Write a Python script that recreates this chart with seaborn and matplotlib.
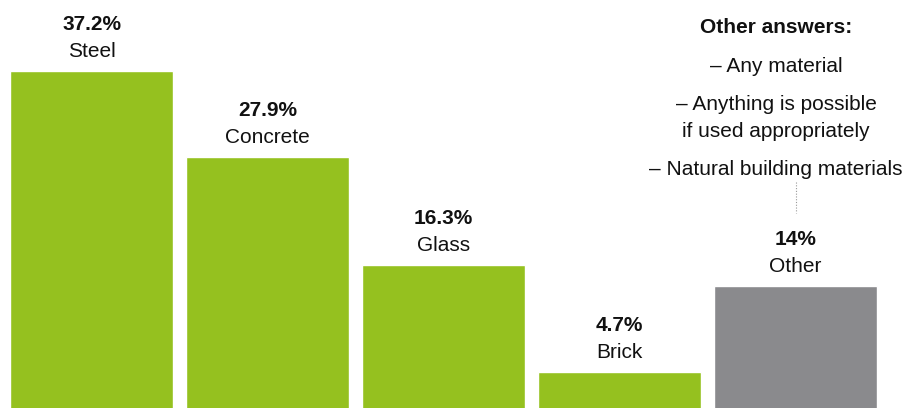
import matplotlib
matplotlib.use("Agg")
import matplotlib.pyplot as plt
import seaborn as sns
import pandas as pd

# Data
materials = ["Steel", "Concrete", "Glass", "Brick", "Other"]
shares = [37.2, 27.9, 16.3, 4.7, 14.0]
share_labels = ["37.2%", "27.9%", "16.3%", "4.7%", "14%"]
other_answers = ["– Any material", "– Anything is possible", "if used appropriately",
                 "– Natural building materials"]

green = "#95C11F"
grey = "#8A8A8D"
colors = [green, green, green, green, grey]
txt_color = "#111111"

sns.set_theme(style="white")
plt.rcParams["font.family"] = ["Liberation Sans", "DejaVu Sans"]

df = pd.DataFrame({"material": materials, "share": shares})

fig = plt.figure(figsize=(9.21, 4.08), dpi=100)
ax = fig.add_axes([0, 0, 1, 1])

sns.barplot(data=df, x="material", y="share", hue="material", palette=colors,
            width=0.926, saturation=1, legend=False, ax=ax)

ax.set_xlim(-0.52, 4.713)
ax.set_ylim(0.81, 44.87)
ax.axis("off")

fs = 15

# labels above the bars
for i, (v, lab, name) in enumerate(zip(shares, share_labels, materials)):
    ax.annotate(name, (i, v), xytext=(0, 10), textcoords="offset points",
                ha="center", va="baseline", fontsize=fs, color=txt_color)
    ax.annotate(lab, (i, v), xytext=(0, 29.5), textcoords="offset points",
                ha="center", va="baseline", fontsize=fs, fontweight="bold",
                color=txt_color)

# side note
xc = 776 / 921
ax.text(xc, 1 - 33 / 408, "Other answers:", transform=ax.transAxes,
        ha="center", va="baseline", fontsize=fs, fontweight="bold", color=txt_color)
for txt, yb in zip(other_answers, [72, 110, 137, 175]):
    ax.text(xc, 1 - yb / 408, txt, transform=ax.transAxes,
            ha="center", va="baseline", fontsize=fs, color=txt_color)

# dotted connector to the Other bar
ax.plot([4, 4], [1 - 182 / 408, 1 - 213 / 408], transform=ax.get_xaxis_transform(),
        color="#999999", linestyle=(0, (1, 1.5)), linewidth=0.8)

fig.savefig("out.png", dpi=100)
